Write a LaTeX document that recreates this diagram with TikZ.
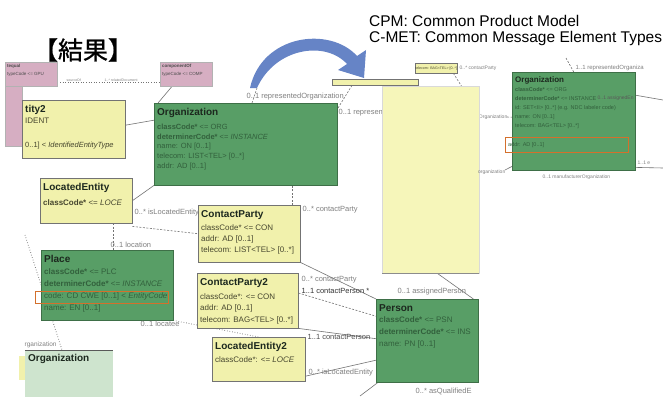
\documentclass[tikz,border=0pt]{standalone}
\usepackage{fontspec}
\setmainfont{Liberation Sans}
\newfontfamily\cjk{Noto Sans CJK JP}[AutoFakeBold=1.0]
\usetikzlibrary{positioning, arrows.meta, calc, backgrounds}

\definecolor{ylw}{RGB}{241,241,172}
\definecolor{paleylw}{RGB}{246,246,186}
\definecolor{grn}{RGB}{88,158,102}
\definecolor{grnlt}{RGB}{206,228,206}
\definecolor{pnk}{RGB}{214,174,194}
\definecolor{hilite}{RGB}{212,112,44}
\definecolor{arrowblue}{RGB}{102,132,198}
\definecolor{gtext}{RGB}{50,96,60}
\definecolor{ytext}{RGB}{70,70,46}
\definecolor{ttlc}{RGB}{28,40,30}

\newcommand{\boxttl}[1]{{\fontsize{10}{12}\selectfont\bfseries\color{ttlc}#1}}

\begin{document}
\begin{tikzpicture}[x=1pt, y=-1pt,
        ybox/.style={rectangle, draw=black!55, fill=ylw, anchor=north west, inner sep=0pt},
        gbox/.style={rectangle, draw=grn!70!black, fill=grn, anchor=north west, inner sep=0pt},
        pbox/.style={rectangle, draw=black!30, fill=pnk, anchor=north west, inner sep=0pt},
        hlbox/.style={rectangle, draw=hilite, line width=1.1pt, anchor=north west, inner sep=0pt},
        ytxt/.style={anchor=north west, align=left, inner xsep=3pt, inner ysep=5pt, text=ytext, font=\fontsize{8}{11}\selectfont},
        gtxt/.style={ytxt, text=gtext},
        ptxt/.style={anchor=north west, align=left, inner sep=2pt, text=black!70, font=\fontsize{4.5}{8}\selectfont},
        lbl/.style={inner sep=0.5pt, text=black!50, font=\fontsize{7.5}{8}\selectfont},
        lblS/.style={lbl, font=\fontsize{5}{6}\selectfont},
        conn/.style={draw=black!55, line width=0.6pt},
        dconn/.style={conn, dash pattern=on 2pt off 1.5pt},
    ]
        \useasboundingbox (0,0) rectangle (663,396);

        % heading and legend
        \node[font=\cjk\bfseries\fontsize{25}{28}\selectfont, inner sep=0pt] (heading) at (83,50) {【結果】};
        \node[anchor=north west, align=left, inner sep=0pt, font=\fontsize{15.5}{16.5}\selectfont] (legend) at (369,15) {CPM: Common Product Model\\C-MET: Common Message Element Types};

        % act relationship stubs
        \node[pbox, minimum width=17pt, minimum height=62pt] (seqStrip) at (5,84) {};
        \node[pbox, minimum width=52pt, minimum height=24pt] (seqA) at (5,62) {};
        \node[ptxt] at (seqA.north west) {\textbf{tequal}\\typeCode <= GPU};
        \node[pbox, minimum width=52pt, minimum height=24pt] (compOf) at (160,62) {};
        \node[ptxt] at (compOf.north west) {\textbf{componentOf}\\typeCode <= COMP};

        % entities, left side
        \node[ybox, minimum width=103pt, minimum height=58pt] (idEnt) at (22,100) {};
        \node[ytxt] at (idEnt.north west) {\boxttl{tity2}\\ IDENT\\[13pt]{\fontsize{7.5}{11}\selectfont 0..1] < \textit{IdentifiedEntityType}}};

        \node[gbox, minimum width=183pt, minimum height=82pt] (org) at (154,103) {};
        \node[gtxt, font=\fontsize{7.5}{9.8}\selectfont] at (org.north west) {\boxttl{Organization}\\[4pt] \textbf{classCode*} <= ORG\\ \textbf{determinerCode*} <= \textit{INSTANCE}\\ name: ON [0..1]\\ telecom: LIST<TEL> [0..*]\\ addr: AD [0..1]};

        \node[ybox, minimum width=92pt, minimum height=45pt] (locEnt) at (40,178) {};
        \node[ytxt] at (locEnt.north west) {\boxttl{LocatedEntity}\\[4pt] \textbf{classCode*} <= \textit{LOCE}};

        \node[gbox, minimum width=132pt, minimum height=70pt] (place) at (41,250) {};
        \node[gtxt, font=\fontsize{8}{12}\selectfont] at (place.north west) {\boxttl{Place}\\ \textbf{classCode*} <= PLC\\ \textbf{determinerCode*} <= \textit{INSTANCE}\\ code: CD CWE [0..1] < \textit{EntityCode}\\ name: EN [0..1]};
        \node[hlbox, minimum width=133pt, minimum height=12pt] (codeHl) at (35,291) {};

        \node[rectangle, fill=ylw, anchor=north west, minimum width=6pt, minimum height=24pt, inner sep=0pt] (orgTab) at (19,356) {};
        \node[rectangle, fill=grnlt, anchor=north west, minimum width=88pt, minimum height=47pt, inner sep=0pt] (orgBL) at (25,350) {};
        \draw[black!65, line width=0.8pt] (orgBL.north west) -- (orgBL.north east);
        \node[ytxt, text=ttlc, inner ysep=4pt] at (orgBL.north west) {\boxttl{Organization}};

        % contact parties
        \node[ybox, minimum width=102pt, minimum height=57pt] (cp) at (198,205) {};
        \node[ytxt] at (cp.north west) {\boxttl{ContactParty}\\[2pt] classCode* <= CON\\ addr: AD [0..1]\\ telecom: LIST<TEL> [0..*]};

        \node[ybox, minimum width=101pt, minimum height=55pt] (cp2) at (197,273) {};
        \node[ytxt, font=\fontsize{8}{11.5}\selectfont] at (cp2.north west) {\boxttl{ContactParty2}\\[2.5pt] classCode*: <= CON\\ addr: AD [0..1]\\ telecom: BAG<TEL> [0..*]};

        \node[ybox, minimum width=93pt, minimum height=44pt] (locEnt2) at (212,337) {};
        \node[ytxt] at (locEnt2.north west) {\boxttl{LocatedEntity2}\\[2pt] classCode*: <= \textit{LOCE}};

        \node[gbox, minimum width=102pt, minimum height=83pt] (person) at (376,299) {};
        \node[gtxt, font=\fontsize{8}{11.7}\selectfont] at (person.north west) {\boxttl{Person}\\ \textbf{classCode*} <= PSN\\ \textbf{determinerCode*} <= INS\\ name: PN [0..1]};

        % C-MET side
        \node[ybox, minimum width=86pt, minimum height=6pt] (hdrStrip) at (332,79) {};
        \node[rectangle, fill=paleylw, draw=black!15, anchor=north west, minimum width=97pt, minimum height=187pt, inner sep=0pt] (bigYlw) at (382,86) {};
        \draw[black!45] (bigYlw.south west) -- (bigYlw.south east);
        \node[ybox, minimum width=42pt, minimum height=10pt, font=\fontsize{3.6}{4}\selectfont, text=ytext] (telBox) at (415,63) {telecom: BAG<TEL> [0..*]};

        \node[gbox, minimum width=123pt, minimum height=98pt] (orgR) at (512,72) {};
        \node[gtxt, font=\fontsize{5.5}{9}\selectfont] (orgRTxt) at (orgR.north west) {{\fontsize{8}{9}\selectfont\bfseries\color{ttlc}Organization}\\ \textbf{classCode*} <= ORG\\ \textbf{determinerCode*} <= INSTANCE\\ id: SET<II> [0..*] (e.g. NDC labeler code)\\ name: ON [0..1]\\ telecom: BAG<TEL> [0..*]};
        \node[hlbox, minimum width=123pt, minimum height=15pt] (addrHl) at (505,137) {};
        \node[gtxt, anchor=west, inner ysep=0pt, font=\fontsize{5.5}{6}\selectfont] at (addrHl.west) {addr: AD [0..1]};

        % labels on the left side
        \node[lbl, anchor=west] at (246,97) {0..1 representedOrganization};
        \node[lbl, anchor=west] at (134,213) {0..* isLocatedEntity};
        \node[lbl, anchor=west] at (110,245) {0..1 location};
        \node[lbl, anchor=west] at (140,324) {0..1 locatee};
        \node[lbl, anchor=west, font=\fontsize{6.5}{7}\selectfont] at (24,345) {rganization};
        \node[lbl, anchor=west] at (302,210) {0..* contactParty};
        \node[lbl, anchor=west] at (301,280) {0..* contactParty};
        \node[lbl, anchor=west, text=black!80] at (301,291) {1..1 contactPerson *};
        \node[lbl, anchor=west, text=black!70] at (307,337) {1..1 contactPerson};
        \node[lbl, anchor=west] at (308,373) {0..* isLocatedEntity};
        \node[lbl, anchor=west] at (397,292) {0..1 assignedPerson};
        \node[lbl, anchor=west] at (415,391) {0..* asQualifiedE};
        \node[lbl, anchor=west, font=\fontsize{3.5}{4}\selectfont] at (66,80) {sourceOf};
        \node[lbl, anchor=west, font=\fontsize{3.5}{4}\selectfont] at (104,80) {1..* relatedDocument};

        % labels on the right side
        \node[lblS, anchor=west] at (459,68) {0..* contactParty};
        \node[lblS, anchor=west, font=\fontsize{6}{7}\selectfont] at (575,68) {1..1 representedOrganiza};
        \node[lblS, anchor=west, text=black!65] at (597,98) {0..1 assignedEn};
        \node[lblS, anchor=west] at (637,163) {1..1 e};
        \node[lblS, anchor=west] at (542,177) {0..1 manufacturerOrganization};
        \node[lblS, anchor=east] at (506,172) {organization};

        % connectors (kept under the boxes)
        \begin{pgfonlayer}{background}
            \fill[white] (0,0) rectangle (663,396);
            \node[lbl, anchor=west] at (338,113) {0..1 representedOrganization};
            \node[lblS, anchor=east] at (508,117) {0..1 representedOrganization};

            \draw[dconn, dotted] ([yshift=4pt]seqA.south east) -- ([yshift=4pt]compOf.south west);
            \draw[conn] ([xshift=12pt]compOf.south west) -- ([xshift=4pt]org.north west);
            \draw[conn] ([yshift=4pt]idEnt.east) -- ([yshift=24pt]org.west);
            \draw[conn] (locEnt.east) -- (org.south west);

            \coordinate (arrowFoot) at (257,88);
            \draw[dconn] ([xshift=98pt]org.north west) -- (arrowFoot);
            \draw[dconn] ([xshift=20pt]hdrStrip.south west) -- ([yshift=-6pt]org.north east);

            \coordinate (locFoot) at ([xshift=-19pt]locEnt.south east);
            \draw[dconn] (locFoot) -- (locFoot |- place.north);
            \draw[dconn] ([yshift=-3pt]locEnt.south east) -- (cp.west);

            \coordinate (placeLink) at (25,235);
            \draw[dconn, dotted, line width=0.9pt] (placeLink) -- ([xshift=37pt]orgBL.north west);
            \draw[dconn, dotted, line width=0.8pt] (place.south east) -- (locEnt2.north);

            \coordinate (cpTop) at ([xshift=-8pt]cp.north east);
            \draw[dconn] (cpTop) -- (cpTop |- org.south);
            \draw[conn] (cp.south east) -- (person.north west);
            \draw[dconn] ([yshift=-20pt]cp2.north east) -- ([yshift=24.5pt]person.west);
            \draw[conn] (cp2.south east) -- ([yshift=2pt]person.west);
            \draw[conn] ([yshift=-17pt]locEnt2.east) -- ([yshift=-19.5pt]person.west);
            \draw[conn] ([xshift=-42pt]bigYlw.south east) -- ([xshift=-5pt]person.north east);
            \coordinate (personTail) at (360,396);
            \draw[conn] ([xshift=2pt]person.south west) -- (personTail);

            \draw[dconn] ([xshift=-4pt]telBox.south east) -- ++(14,22);
            \coordinate (orgRTop) at (566,58);
            \draw[dconn] (orgRTop) -- (orgR.north);
            \coordinate (orgREast) at (663,100);
            \draw[conn] ([yshift=26pt]orgR.east) -- (orgREast);
            \coordinate (orgRLow) at (663,168);
            \draw[conn] ([yshift=3pt]orgR.south east) -- (orgRLow);
            \draw[dconn] (507,117) -- ([yshift=4pt]orgR.west);
            \draw[conn] (505,170) -- ([yshift=4pt]orgR.south west);
        \end{pgfonlayer}

        % blue arrow from the CPM part to the C-MET part
        \fill[arrowblue] (250,88) .. controls (262,34) and (330,26) .. (357,56) -- (366,50) -- (364,78) -- (338,70) -- (347,64) .. controls (325,40) and (275,48) .. (257,88) -- cycle;
    \end{tikzpicture}
\end{document}
